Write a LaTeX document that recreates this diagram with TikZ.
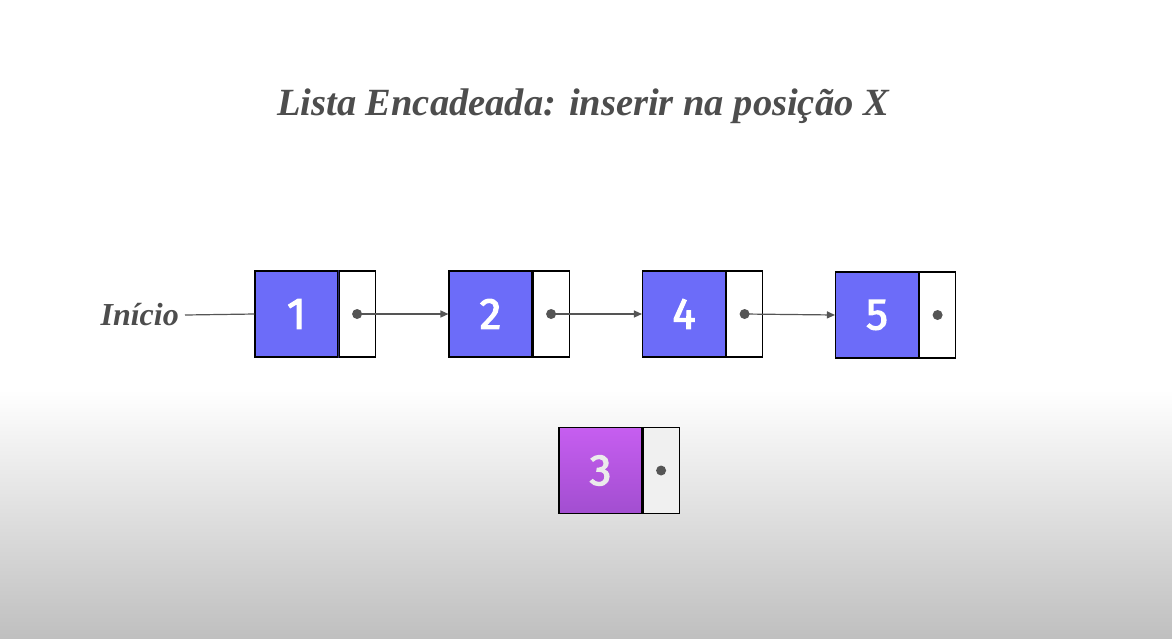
\documentclass[tikz,border=0pt]{standalone}
\usepackage{fontspec}
\setmainfont{Liberation Serif}
\newfontfamily\numfont[FakeBold=2.5]{Fira Sans}
\usetikzlibrary{arrows.meta}
\definecolor{txtgray}{HTML}{4D4D4D}
\definecolor{nodeblue}{HTML}{6C6CF9}
\definecolor{purptop}{HTML}{C65EF0}
\definecolor{purpbot}{HTML}{A24ED0}
\definecolor{linegray}{HTML}{555555}
\definecolor{divnavy}{HTML}{2A2A6A}
\tikzset{
  databox/.style={draw=black, line width=1.1pt, fill=nodeblue, minimum width=83pt, minimum height=86pt, inner sep=0pt, font=\numfont\fontsize{44}{44}\selectfont, text=white},
  ptrbox/.style={draw=black, line width=1.1pt, fill=white, minimum width=36pt, minimum height=86pt, inner sep=0pt},
  dot/.style={circle, fill=linegray, minimum size=10pt, inner sep=0pt},
  link/.style={draw=linegray, line width=1.2pt, -{Triangle[length=8pt,width=7pt]}},
  titlefont/.style={font=\bfseries\itshape\fontsize{38.5}{38.5}\selectfont, text=txtgray}
}
\begin{document}
\begin{tikzpicture}[x=1pt,y=-1pt]
\useasboundingbox (0,0) rectangle (1172,638);
\fill[white] (0,0) rectangle (1172,392);
\shade[top color=white, bottom color=black!25] (0,390) rectangle (1172,638);
\node[titlefont] (title) at (583,106) {Lista Encadeada: inserir na posição X};
% list nodes
\node[databox] (d1) at (296.5,314) {1};
\node[ptrbox, anchor=west] (p1) at (d1.east) {};
\node[databox] (d2) at (490.5,314) {2};
\node[ptrbox, anchor=west] (p2) at (d2.east) {};
\node[databox] (d4) at (684,314) {4};
\node[ptrbox, anchor=west] (p4) at (d4.east) {};
\node[databox] (d5) at (877,315) {5};
\node[ptrbox, anchor=west] (p5) at (d5.east) {};
\draw[divnavy, line width=1.1pt] (d1.north east) -- (d1.south east);
\node[dot] (c1) at (p1.center) {};
\node[dot] (c2) at (p2.center) {};
\node[dot] (c4) at (p4.center) {};
\node[dot] (c5) at (p5.center) {};
% new node
\node[databox, shading=axis, top color=purptop, bottom color=purpbot, text=white!92!black] (d3) at (600.5,470.5) {3};
\node[ptrbox, anchor=west, fill=black!6] (p3) at (d3.east) {};
\node[dot] (c3) at (p3.center) {};
% start
\node[font=\bfseries\itshape\fontsize{32}{32}\selectfont, text=txtgray, anchor=east, inner sep=0pt] (ini) at (179,315) {Início};
\draw[linegray, line width=1.2pt] ([xshift=6pt]ini.east) -- (d1.west);
% links
\draw[link] (c1.center) -- (d2.west);
\draw[link] (c2.center) -- (d4.west);
\draw[link] (c4.center) -- (d5.west);
\end{tikzpicture}
\end{document}
